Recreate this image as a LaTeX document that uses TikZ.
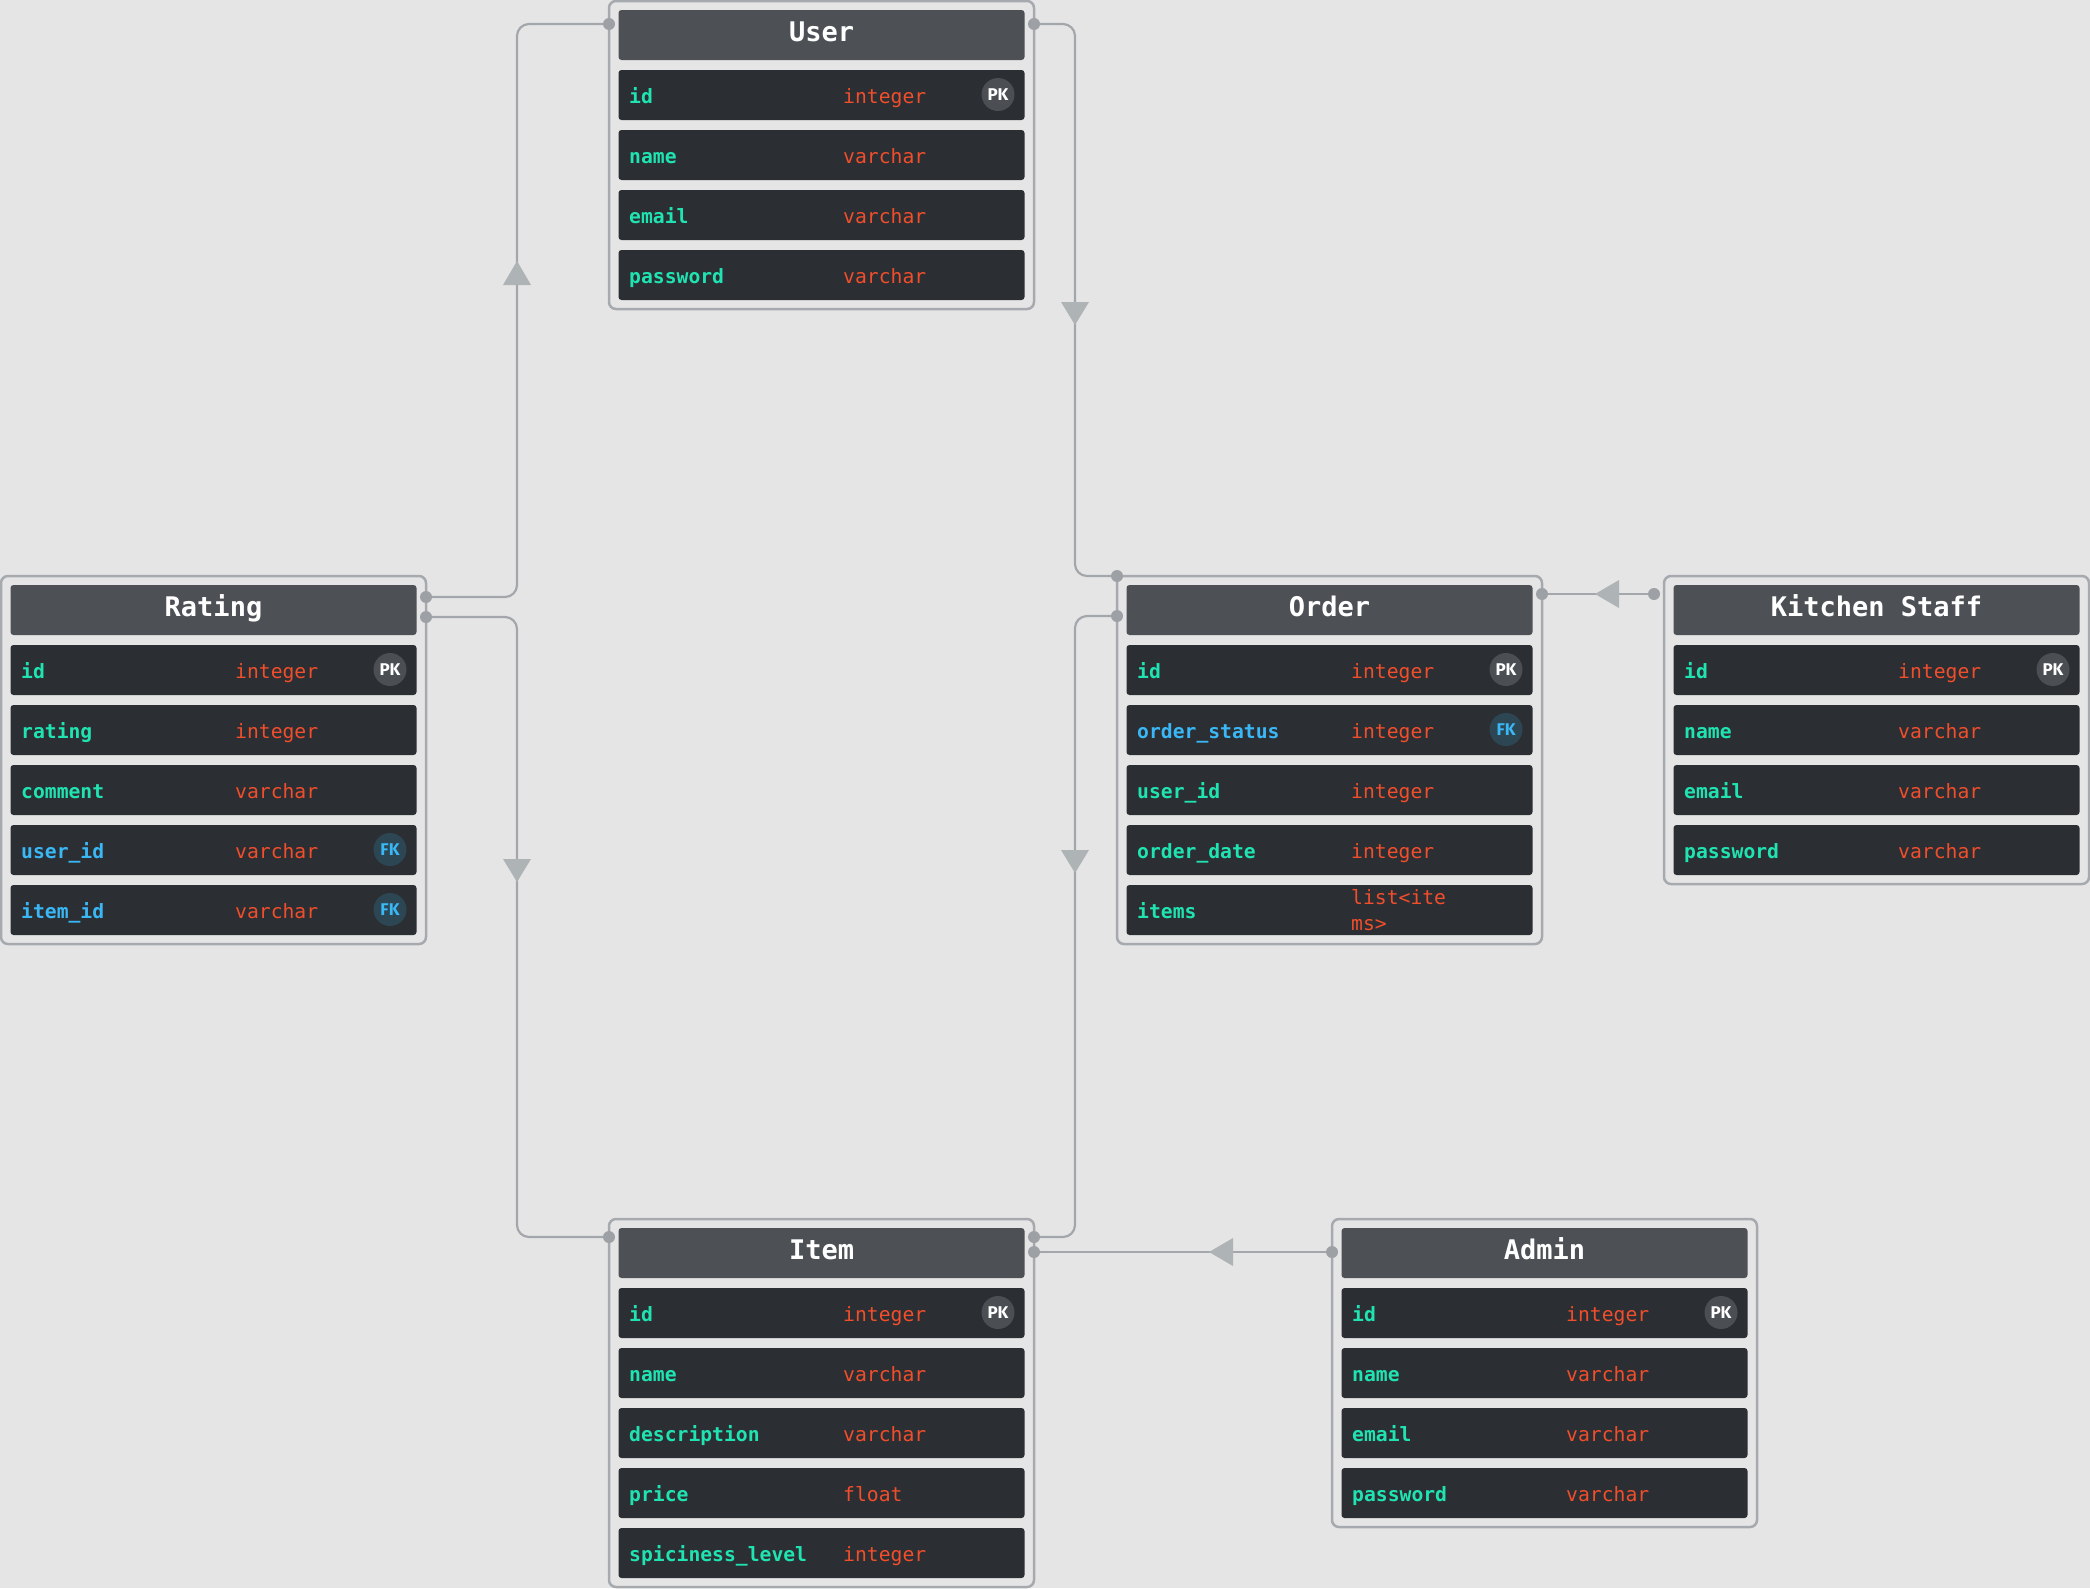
\documentclass[tikz,border=0pt]{standalone}
\usepackage{fontspec}
\usetikzlibrary{calc}
\newfontfamily\monof{DejaVu Sans Mono}
\newfontfamily\badgef{Fira Sans}
\definecolor{bgc}{HTML}{E5E5E5}
\definecolor{boxline}{HTML}{A6AAAE}
\definecolor{hdrc}{HTML}{4D5155}
\definecolor{rowc}{HTML}{2B2E32}
\definecolor{namec}{HTML}{20E3B2}
\definecolor{fkc}{HTML}{3AB7F5}
\definecolor{typec}{HTML}{F14E2C}
\definecolor{pkfill}{HTML}{4B4F54}
\definecolor{fkfill}{HTML}{2D4653}
\definecolor{connc}{HTML}{A3A7AB}
\definecolor{arrowc}{HTML}{AEB3B6}
\definecolor{dotc}{HTML}{9DA1A6}
\tikzset{
  tablebox/.style={draw=boxline, line width=2.5pt, rounded corners=7pt, minimum width=425pt, inner sep=0pt, outer sep=0pt},
  hdrbox/.style={fill=hdrc, rounded corners=3pt, minimum width=406pt, minimum height=50pt, inner sep=0pt, outer sep=0pt},
  rowbox/.style={fill=rowc, rounded corners=3pt, minimum width=406pt, minimum height=50pt, inner sep=0pt, outer sep=0pt},
  titletext/.style={inner sep=0pt, text=white, font=\monof\bfseries\fontsize{27}{30}\selectfont},
  nametext/.style={inner sep=0pt, font=\monof\bfseries\fontsize{19.7}{24}\selectfont},
  typetext/.style={inner sep=0pt, text=typec, font=\monof\fontsize{19.7}{24}\selectfont},
  pkbadge/.style={circle, fill=pkfill, minimum size=33pt, inner sep=0pt, text=white, font=\badgef\bfseries\fontsize{17}{17}\selectfont},
  fkbadge/.style={circle, fill=fkfill, minimum size=33pt, inner sep=0pt, text=fkc, font=\badgef\bfseries\fontsize{17}{17}\selectfont},
  conn/.style={draw=connc, line width=2.2pt, rounded corners=12pt},
  arrowhd/.style={fill=arrowc},
  enddot/.style={fill=dotc}
}
% table: #1 id, #2 x, #3 y, #4 rows, #5 title
\newcommand\ertable[5]{%
  \gdef\tx{#2}\gdef\ty{#3}%
  \node[tablebox, minimum height={68+60*#4}, anchor=north west] (#1) at (#2,#3) {};
  \node[hdrbox, anchor=north west] (#1-h) at ({#2+9.5},{#3+9}) {};
  \node[titletext, anchor=base] (#1-t) at ($(#1-h.north)+(0,31)$) {#5};
}
% row: #1 table id, #2 index, #3 name, #4 type, #5 name colour
\newcommand\errow[5]{%
  \node[rowbox, anchor=north west] (#1-r#2) at ({\tx+9.5},{\ty+9+60*#2}) {};
  \node[nametext, text=#5, anchor=base west] (#1-n#2) at ($(#1-r#2.north west)+(10.5,33)$) {#3};
  \node[typetext, anchor=base west] (#1-y#2) at ($(#1-r#2.north west)+(224.5,33)$) {#4};
}
\newcommand\pkb[2]{\node[pkbadge] (#1-b#2) at ($(#1-r#2.north east)+(-26.5,24.5)$) {PK};}
\newcommand\fkb[2]{\node[fkbadge] (#1-b#2) at ($(#1-r#2.north east)+(-26.5,24.5)$) {FK};}
\begin{document}
\begin{tikzpicture}[x=1pt,y=-1pt]
\fill[bgc] (0,0) rectangle (2090,1588);
\useasboundingbox (0,0) rectangle (2090,1588);

% User
\ertable{user}{609}{1}{4}{User}
\errow{user}{1}{id}{integer}{namec}\pkb{user}{1}
\errow{user}{2}{name}{varchar}{namec}
\errow{user}{3}{email}{varchar}{namec}
\errow{user}{4}{password}{varchar}{namec}

% Rating
\ertable{rating}{1}{576}{5}{Rating}
\errow{rating}{1}{id}{integer}{namec}\pkb{rating}{1}
\errow{rating}{2}{rating}{integer}{namec}
\errow{rating}{3}{comment}{varchar}{namec}
\errow{rating}{4}{user\_id}{varchar}{fkc}\fkb{rating}{4}
\errow{rating}{5}{item\_id}{varchar}{fkc}\fkb{rating}{5}

% Order
\ertable{order}{1117}{576}{5}{Order}
\errow{order}{1}{id}{integer}{namec}\pkb{order}{1}
\errow{order}{2}{order\_status}{integer}{fkc}\fkb{order}{2}
\errow{order}{3}{user\_id}{integer}{namec}
\errow{order}{4}{order\_date}{integer}{namec}
\errow{order}{5}{items}{}{namec}
\node[typetext, anchor=base west] (order-y5a) at ($(order-r5.north west)+(224.5,19)$) {list<ite};
\node[typetext, anchor=base west] (order-y5b) at ($(order-r5.north west)+(224.5,45)$) {ms>};

% Kitchen Staff
\ertable{kitchen}{1664}{576}{4}{Kitchen Staff}
\errow{kitchen}{1}{id}{integer}{namec}\pkb{kitchen}{1}
\errow{kitchen}{2}{name}{varchar}{namec}
\errow{kitchen}{3}{email}{varchar}{namec}
\errow{kitchen}{4}{password}{varchar}{namec}

% Item
\ertable{item}{609}{1219}{5}{Item}
\errow{item}{1}{id}{integer}{namec}\pkb{item}{1}
\errow{item}{2}{name}{varchar}{namec}
\errow{item}{3}{description}{varchar}{namec}
\errow{item}{4}{price}{float}{namec}
\errow{item}{5}{spiciness\_level}{integer}{namec}

% Admin
\ertable{admin}{1332}{1219}{4}{Admin}
\errow{admin}{1}{id}{integer}{namec}\pkb{admin}{1}
\errow{admin}{2}{name}{varchar}{namec}
\errow{admin}{3}{email}{varchar}{namec}
\errow{admin}{4}{password}{varchar}{namec}

% connection points
\coordinate (uL) at ($(user.north west)+(0,23)$);
\coordinate (uR) at ($(user.north east)+(0,23)$);
\coordinate (rA) at ($(rating.north east)+(0,21)$);
\coordinate (rB) at ($(rating.north east)+(0,41)$);
\coordinate (oT) at (order.north west);
\coordinate (oL) at ($(order.north west)+(0,40)$);
\coordinate (oR) at ($(order.north east)+(0,18)$);
\coordinate (kL) at ($(kitchen.north west)+(-10,18)$);
\coordinate (iL) at ($(item.north west)+(0,18)$);
\coordinate (iR) at ($(item.north east)+(0,18)$);
\coordinate (iR2) at ($(item.north east)+(0,33)$);
\coordinate (aL) at ($(admin.north west)+(0,33)$);

% connectors
\draw[conn] (uL) -| ([xshift=91pt]rA) -- (rA);
\draw[conn] (uR) -| ([xshift=-42pt]oT) -- (oT);
\draw[conn] (rB) -| ([xshift=-92pt]iL) -- (iL);
\draw[conn] (iR) -| ([xshift=-42pt]oL) -- (oL);
\draw[conn] (kL) -- (oR);
\draw[conn] (aL) -- (iR2);

% arrowheads
\fill[arrowhd] (517,261) -- (503,285) -- (531,285) -- cycle;
\fill[arrowhd] (1075,325) -- (1061,302) -- (1089,302) -- cycle;
\fill[arrowhd] (517,882) -- (503,859) -- (531,859) -- cycle;
\fill[arrowhd] (1075,873) -- (1061,850) -- (1089,850) -- cycle;
\fill[arrowhd] (1595,594) -- (1619,580) -- (1619,608) -- cycle;
\fill[arrowhd] (1209,1252) -- (1233,1238) -- (1233,1266) -- cycle;

% end dots
\foreach \p in {uL,uR,rA,rB,oT,oL,oR,kL,iL,iR,iR2,aL}
  \fill[enddot] (\p) circle (6pt);
\end{tikzpicture}
\end{document}
